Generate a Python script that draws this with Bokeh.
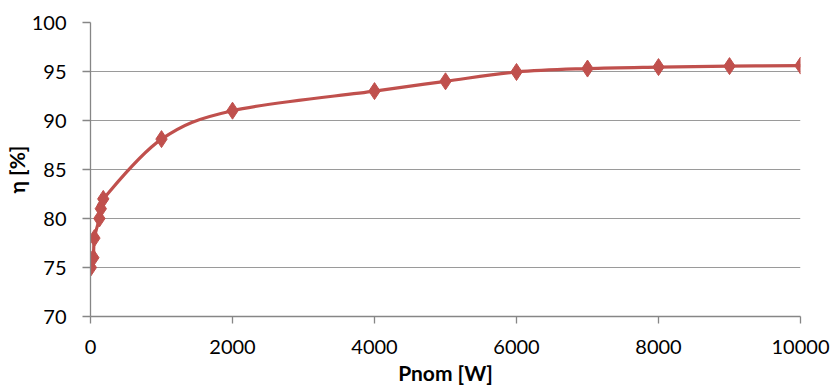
import numpy as np
from bokeh.plotting import figure
from bokeh.models import Range1d, FixedTicker, ColumnDataSource
from bokeh.embed import file_html
from bokeh.resources import INLINE

# Data
p_nom = [5, 40, 55, 125, 145, 180, 1000, 2000, 4000, 5000, 6000, 7000, 8000, 9000, 10000]
eta = [75, 76, 78, 80, 81, 82, 88.1, 91.0, 93.0, 94.0, 94.95, 95.3, 95.45, 95.55, 95.6]
x_ticks = [0, 2000, 4000, 6000, 8000, 10000]
y_ticks = [70, 75, 80, 85, 90, 95, 100]

RED = "#C0504D"
GRID = "#9A9A9A"
AXIS = "#868686"
FONT = "Lato"

p = figure(width=836, height=387, output_backend="svg", toolbar_location=None,
           x_range=Range1d(0, 10000), y_range=Range1d(70, 100),
           min_border_left=89, min_border_right=36, min_border_top=22, min_border_bottom=70)
p.outline_line_color = None
p.background_fill_color = "white"
p.border_fill_color = "white"

# smoothed line (Catmull-Rom style Bezier segments, like Excel's smoothing)
xs = np.array(p_nom, dtype=float)
ys = np.array(eta, dtype=float)
n = len(xs)
xp = np.concatenate([[xs[0]], xs, [xs[-1]]])
yp = np.concatenate([[ys[0]], ys, [ys[-1]]])
t = 1.0 / 6.0
x0 = xs[:-1]; y0 = ys[:-1]; x1 = xs[1:]; y1 = ys[1:]
cx0 = x0 + (xp[2:n + 1] - xp[0:n - 1]) * t
cy0 = y0 + (yp[2:n + 1] - yp[0:n - 1]) * t
cx1 = x1 - (xp[3:n + 2] - xp[1:n]) * t
cy1 = y1 - (yp[3:n + 2] - yp[1:n]) * t
bez = ColumnDataSource(dict(x0=x0, y0=y0, x1=x1, y1=y1, cx0=cx0, cy0=cy0, cx1=cx1, cy1=cy1))
p.bezier(x0="x0", y0="y0", x1="x1", y1="y1", cx0="cx0", cy0="cy0", cx1="cx1", cy1="cy1",
         source=bez, line_color=RED, line_width=3.2)

p.scatter(p_nom, eta, marker="diamond", size=17, fill_color=RED, line_color=RED)

# axes
p.xaxis.ticker = FixedTicker(ticks=x_ticks)
p.yaxis.ticker = FixedTicker(ticks=y_ticks)
for ax in (p.xaxis, p.yaxis):
    ax.axis_line_color = AXIS
    ax.axis_line_width = 1.3
    ax.major_tick_line_color = AXIS
    ax.major_tick_line_width = 1.3
    ax.minor_tick_line_color = None
    ax.major_tick_in = 0
    ax.major_label_text_font = FONT
    ax.major_label_text_font_size = "20px"
    ax.major_label_text_color = "black"
    ax.axis_label_text_font = FONT
    ax.axis_label_text_font_size = "21px"
    ax.axis_label_text_font_style = "bold"
    ax.axis_label_text_color = "black"

p.xaxis.major_tick_out = 7
p.yaxis.major_tick_out = 8
p.xaxis.major_label_standoff = 16
p.yaxis.major_label_standoff = 16
p.xaxis.axis_label = "Pnom [W]"
p.yaxis.axis_label = "η [%]"
p.xaxis.axis_label_standoff = 3
p.yaxis.axis_label_standoff = 0

p.xgrid.grid_line_color = None
p.ygrid.grid_line_color = GRID
p.ygrid.grid_line_width = 1.2

open("out.html", "w").write(file_html(p, INLINE))
